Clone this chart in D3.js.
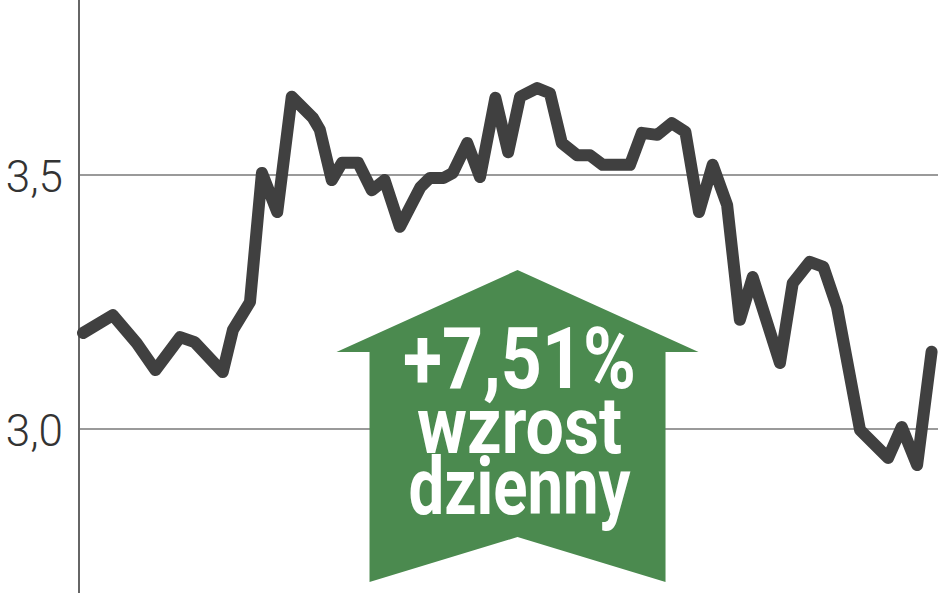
<!DOCTYPE html>
<html>
<head>
<meta charset="utf-8">
<script src="https://cdn.jsdelivr.net/npm/d3@7"></script>
<style>
  html, body { margin: 0; padding: 0; background: #fff; }
  svg { display: block; }
</style>
</head>
<body>
<svg id="chart" width="948" height="593"></svg>
<script>
// session position (0..100) and closing price
var days = [0, 3.5, 6.3, 8.5, 11.4, 13.1, 16.4, 17.6, 19.6, 21.0, 22.8, 24.5, 27.0, 27.8, 29.2, 30.4,
    32.3, 33.9, 35.4, 37.2, 39.6, 40.7, 42.3, 43.4, 45.1, 46.6, 48.4, 49.9, 51.3, 53.3, 54.8,
    56.2, 58.0, 59.5, 61.0, 64.2, 65.6, 67.4, 69.1, 70.7, 72.3, 73.9, 75.6, 77.1, 78.6, 81.8,
    83.3, 85.3, 86.9, 88.5, 91.2, 94.5, 96.1, 97.9, 99.6];
var prices = [3.189, 3.224, 3.169, 3.116, 3.181, 3.171, 3.112, 3.195, 3.250, 3.504, 3.427, 3.654, 3.612, 3.589, 3.490, 3.524,
    3.524, 3.470, 3.490, 3.398, 3.476, 3.494, 3.494, 3.504, 3.563, 3.496, 3.652, 3.545, 3.654, 3.671, 3.661,
    3.563, 3.539, 3.539, 3.520, 3.520, 3.583, 3.579, 3.602, 3.585, 3.427, 3.520, 3.441, 3.215, 3.299, 3.130,
    3.287, 3.329, 3.319, 3.240, 2.998, 2.943, 3.004, 2.929, 3.152];
var yTicks = [3.0, 3.5];
var changeLabel = ['+7,51%', 'wzrost', 'dzienny'];

var svg = d3.select('#chart');
var W = 948, H = 593;

var x = d3.scaleLinear().domain([0, 100]).range([83, 935]);
var y = d3.scaleLinear().domain([3.0, 3.5]).range([429, 175]);

// gridlines
svg.append('g').selectAll('line').data(yTicks).enter()
    .append('line')
    .attr('x1', 80).attr('x2', 938)
    .attr('y1', function (d) { return y(d); })
    .attr('y2', function (d) { return y(d); })
    .attr('stroke', '#9a9a9a').attr('stroke-width', 2);

// y axis line
svg.append('line')
    .attr('x1', 79).attr('x2', 79).attr('y1', 0).attr('y2', H)
    .attr('stroke', '#666').attr('stroke-width', 2);

// tick labels
svg.append('g').selectAll('text').data(yTicks).enter()
    .append('text')
    .attr('x', 63)
    .attr('y', function (d) { return y(d) + 17; })
    .attr('text-anchor', 'end')
    .attr('font-family', 'Roboto, sans-serif')
    .attr('font-weight', 300)
    .attr('font-size', 44)
    .attr('fill', '#333')
    .text(function (d) { return d3.format('.1f')(d).replace('.', ','); });

// price line
var line = d3.line()
    .x(function (d, i) { return x(days[i]); })
    .y(function (d) { return y(d); });
svg.append('path')
    .datum(prices)
    .attr('d', line)
    .attr('fill', 'none')
    .attr('stroke', '#404040')
    .attr('stroke-width', 12)
    .attr('stroke-linejoin', 'round')
    .attr('stroke-linecap', 'round');

// up arrow badge
var acx = x(51), aTop = 270, wing = 181, body = 148, shoulder = 352, aBottom = 582, notch = 537;
var arrowPts = [
    [acx - wing, shoulder], [acx, aTop], [acx + wing, shoulder], [acx + body, shoulder],
    [acx + body, aBottom], [acx, notch], [acx - body, aBottom], [acx - body, shoulder]
];
svg.append('polygon')
    .attr('points', arrowPts.map(function (p) { return p.join(','); }).join(' '))
    .attr('fill', '#4b8a4f');

var lab = [
    { t: changeLabel[0], y: 388, w: 233, s: 86 },
    { t: changeLabel[1], y: 453, w: 205, s: 80 },
    { t: changeLabel[2], y: 514, w: 222, s: 80 }
];
svg.append('g').selectAll('text').data(lab).enter()
    .append('text')
    .attr('x', acx + 2)
    .attr('y', function (d) { return d.y; })
    .attr('text-anchor', 'middle')
    .attr('font-family', 'Roboto, sans-serif')
    .attr('font-weight', 700)
    .attr('font-size', function (d) { return d.s; })
    .attr('textLength', function (d) { return d.w; })
    .attr('lengthAdjust', 'spacingAndGlyphs')
    .attr('fill', '#fff')
    .text(function (d) { return d.t; });
</script>
</body>
</html>
